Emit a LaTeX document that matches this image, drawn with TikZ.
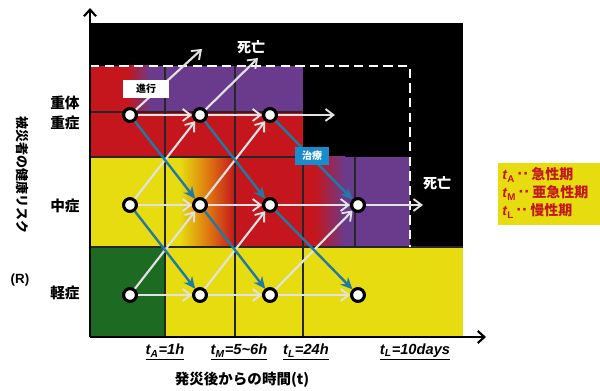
\documentclass[tikz,border=0pt]{standalone}
\usepackage{fontspec}
\setmainfont{Liberation Sans}
\newfontfamily\jp{Noto Sans CJK JP}
\usetikzlibrary{arrows.meta}
\definecolor{cred}{HTML}{C4161C}
\definecolor{cpur}{HTML}{6A3B8C}
\definecolor{cyel}{HTML}{E6DC10}
\definecolor{cgrn}{HTML}{1D6B22}
\definecolor{cblu}{HTML}{1F7BA6}
\definecolor{cbox}{HTML}{1A8BCB}
\definecolor{cgry}{HTML}{E2E2E2}
\definecolor{corg}{HTML}{E07A10}
\newcommand{\twodots}{\,{\fontsize{13}{12}\selectfont ··}\,}
\tikzset{
  pt/.style={circle, draw=black, fill=white, line width=2.2pt, minimum size=9.5pt, inner sep=0pt},
  prog/.style={draw=cgry, line width=1.6pt, -{Straight Barb[length=6pt,width=9pt,line width=1.4pt]}},
  treat/.style={draw=cblu, line width=1.8pt, -{Stealth[length=9pt,width=8pt]}},
  grid/.style={draw=black!85, line width=0.8pt},
  lbl/.style={font=\jp\bfseries\fontsize{11}{12}\selectfont, inner sep=0pt},
  tick/.style={font=\bfseries\itshape\fontsize{11}{12}\selectfont, inner sep=0pt},
  leg/.style={font=\bfseries\fontsize{10.5}{12}\selectfont, text=cred, anchor=west, inner sep=0pt},
  axis/.style={line width=1.6pt, -{Straight Barb[length=5pt,width=9pt,line width=1.6pt]}}
}
\begin{document}
\begin{tikzpicture}[x=0.75pt,y=-0.75pt]
\useasboundingbox (0,0) rectangle (600,391);
\fill[white] (0,0) rectangle (600,391);
% chart background
\fill[black] (90,23) rectangle (463,337);
% severe row
\fill[cred] (90,66) rectangle (303,157);
\fill[cpur] (150,66) rectangle (303,112);
\shade[left color=cred, right color=cpur] (128,66) rectangle (150,112);
% moderate row
\fill[cyel] (90,157) rectangle (180,247);
\shade[left color=cyel, right color=cred, middle color=corg] (180,157) rectangle (235,247);
\fill[cred] (235,157) rectangle (315,247);
\shade[left color=cred, right color=cpur] (315,157) rectangle (345,247);
\fill[cpur] (345,157) rectangle (410,247);
% mild row
\fill[cgrn] (90,247) rectangle (165,337);
\fill[cyel] (165,247) rectangle (463,337);
% grid
\draw[grid] (165,66) -- (165,337);
\draw[grid] (235,66) -- (235,337);
\draw[grid] (303,157) -- (303,337);
\draw[grid] (355,157) -- (355,247);
\draw[grid] (90,112) -- (303,112);
\draw[grid] (90,157) -- (303,157);
\draw[grid] (90,247) -- (463,247);
% dashed boundary
\draw[white, line width=1.5pt, dash pattern=on 7pt off 4pt] (90,66) -- (410,66) -- (410,247);
% axes
\coordinate (O) at (90,337);
\coordinate (ytop) at (90,8);
\coordinate (xend) at (486,337);
\draw[axis] (O) -- (ytop);
\draw[axis] (O) -- (xend);
% state nodes
\node[pt] (s1) at (130,115) {};
\node[pt] (s2) at (200,115) {};
\node[pt] (s3) at (270,115) {};
\node[pt] (m1) at (130,205) {};
\node[pt] (m2) at (200,205) {};
\node[pt] (m3) at (270,205) {};
\node[pt] (m4) at (358,205) {};
\node[pt] (l1) at (130,295) {};
\node[pt] (l2) at (200,295) {};
\node[pt] (l3) at (270,295) {};
\node[pt] (l4) at (358,295) {};
\coordinate (d1) at (202,49);
\coordinate (d2) at (258,58);
\coordinate (sR) at (335,115);
\coordinate (mR) at (423,205);
% progression arrows
\draw[prog] (s1) -- (s2);
\draw[prog] (s2) -- (s3);
\draw[prog] (s3) -- (sR);
\draw[prog] (m1) -- (m2);
\draw[prog] (m2) -- (m3);
\draw[prog] (m3) -- (m4);
\draw[prog] (m4) -- (mR);
\draw[prog] (l1) -- (l2);
\draw[prog] (l2) -- (l3);
\draw[prog] (l3) -- (l4);
\draw[prog] (l1) -- (m2);
\draw[prog] (l2) -- (m3);
\draw[prog] (l3) -- (m4);
\draw[prog] (m1) -- (s2);
\draw[prog] (m2) -- (s3);
\draw[prog] (s1) -- (d1);
\draw[prog] (s2) -- (d2);
% treatment arrows
\draw[treat] (s1) -- (m2);
\draw[treat] (s2) -- (m3);
\draw[treat] (s3) -- (m4);
\draw[treat] (m1) -- (l2);
\draw[treat] (m2) -- (l3);
\draw[treat] (m3) -- (l4);
% redraw nodes on top
\foreach \n in {s1,s2,s3,m1,m2,m3,m4,l1,l2,l3,l4}{
  \draw[black, fill=white, line width=2.2pt] (\n.center) circle[radius=4.75pt];
}
% label boxes
\node[fill=white, minimum width=35pt, minimum height=13pt, inner sep=0pt, font=\jp\bfseries\fontsize{7.5}{8}\selectfont] (progbox) at (146,89) {進行};
\node[fill=cbox, text=white, minimum width=25.5pt, minimum height=13.5pt, inner sep=0pt, font=\jp\bfseries\fontsize{7.5}{8}\selectfont] (treatbox) at (312,156) {治療};
% death labels
\node[lbl, text=white, font=\jp\bfseries\fontsize{10.5}{12}\selectfont] (death1) at (251,47) {死亡};
\node[lbl, text=white, font=\jp\bfseries\fontsize{10.5}{12}\selectfont] (death2) at (437,183) {死亡};
% y labels
\node[lbl] (yl1) at (65,103) {重体};
\node[lbl] (yl2) at (65,123) {重症};
\node[lbl] (yl3) at (65,206) {中症};
\node[lbl] (yl4) at (65,293) {軽症};
\node[font=\bfseries\fontsize{10}{12}\selectfont, inner sep=0pt] (R) at (20,280) {(R)};
\node[rotate=-90, font=\jp\bfseries\fontsize{9.75}{11}\selectfont, inner sep=0pt] (ylab) at (22,175) {被災者の健康リスク};
% x ticks
\node[tick] (tA) at (165,352) {\underline{t\textsubscript{A}=1h}};
\node[tick] (tM) at (239,352) {\underline{t\textsubscript{M}=5\char"7E 6h}};
\node[tick] (tL1) at (306,352) {\underline{t\textsubscript{L}=24h}};
\node[tick] (tL2) at (415,352) {\underline{t\textsubscript{L}=10days}};
\node[font=\jp\bfseries\fontsize{10.9}{12}\selectfont, inner sep=0pt] (xlab) at (242,380) {発災後からの時間(\textit{t})};
% legend
\fill[cyel] (498,163) rectangle (600,225);
\node[leg] (g1) at (502,175) {\textit{t}\textsubscript{A}\twodots{\jp 急性期}};
\node[leg] (g2) at (502,193) {\textit{t}\textsubscript{M}\twodots{\jp 亜急性期}};
\node[leg] (g3) at (502,211) {\textit{t}\textsubscript{L}\twodots{\jp 慢性期}};
\end{tikzpicture}
\end{document}
